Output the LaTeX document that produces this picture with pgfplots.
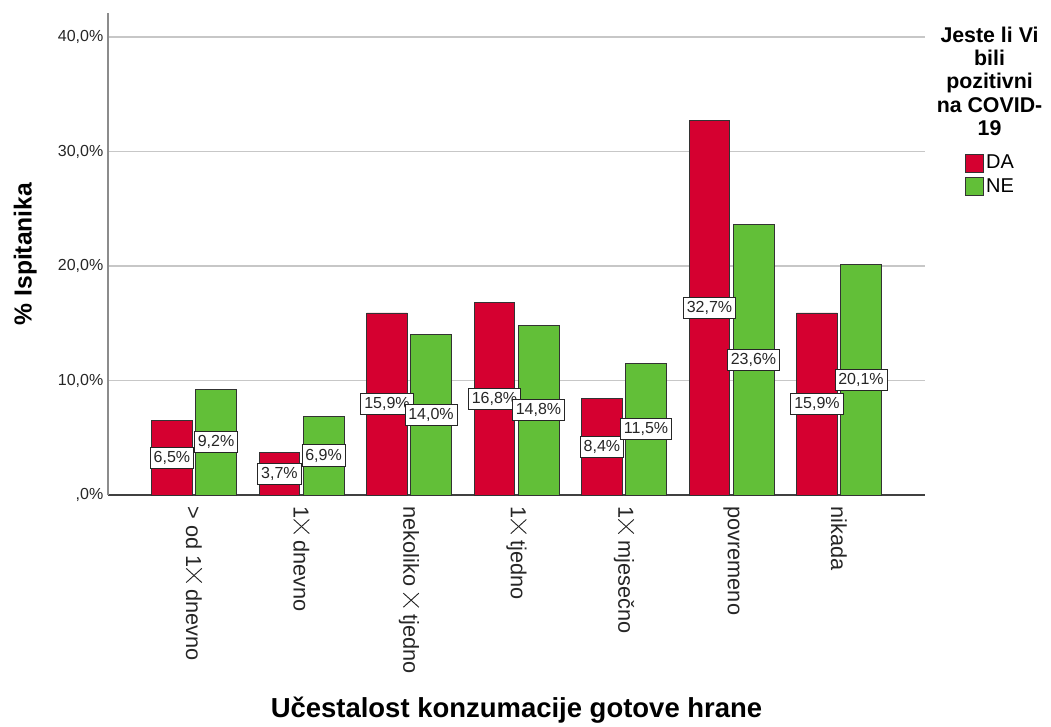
\documentclass[border=0pt]{standalone}
\usepackage{pgfplots}
\pgfplotsset{compat=1.18}
\usepackage{pgfplotstable}
\usepackage{fontspec}
\setmainfont{Liberation Sans}
\definecolor{bred}{RGB}{213,0,48}
\definecolor{bgreen}{RGB}{98,191,56}
\newcommand\tx{\makebox[0.74em]{\raisebox{0.358em}{\makebox[0pt]{\rotatebox[origin=c]{47.8}{\rule[-0.35pt]{0.967em}{0.7pt}}}\makebox[0pt]{\rotatebox[origin=c]{-47.8}{\rule[-0.35pt]{0.967em}{0.7pt}}}}}}
\pgfplotstableread{
x da ne
0 6.5 9.2
1 3.7 6.9
2 15.9 14.0
3 16.8 14.8
4 8.4 11.5
5 32.7 23.6
6 15.9 20.1
}\data
\pgfplotsset{
  mylegend/.style={legend image code/.code={\draw[##1, line width=0.6pt] (0pt,-6.75pt) rectangle (13.5pt,6.75pt);}},
  vallabel/.style={draw=none, forget plot, point meta=explicit,
    nodes near coords={\pgfmathprintnumber[fixed,fixed zerofill,precision=1,use comma]{\pgfplotspointmeta}\%},
    every node near coord/.append style={anchor=center, draw=black!85, fill=white, inner xsep=2.5pt, inner ysep=3pt, line width=0.7pt, font=\fontsize{12}{14}\selectfont, text=black!85}},
}
\begin{document}
\begin{tikzpicture}
\begin{axis}[name=ax,
  width=612.75pt, height=361.5pt, scale only axis,
  xmin=-0.8, xmax=6.8, ymin=0, ymax=42.1,
  clip=false,
  /pgf/number format/assume math mode=true,
  axis x line*=bottom, axis y line*=left,
  axis line style={-},
  x axis line style={black!75, line width=0.9pt},
  y axis line style={black!45, line width=0.9pt},
  ytick={0,10,20,30,40},
  yticklabels={{,0\%},{10,0\%},{20,0\%},{30,0\%},{40,0\%}},
  xtick={0,1,2,3,4,5,6},
  xticklabels={{> od 1\tx{} dnevno},{1\tx{} dnevno},{nekoliko \tx{} tjedno},{1\tx{} tjedno},{1\tx{} mjesečno},{povremeno},{nikada}},
  major tick length=0pt,
  ymajorgrids, grid style={black!22, line width=0.9pt},
  yticklabel style={font=\fontsize{12}{14}\selectfont, text=black!85},
  xticklabel style={font=\fontsize{16.3}{19}\selectfont, rotate=-90, anchor=west, text=black!85},
  xticklabel shift=5pt,
  xlabel={Učestalost konzumacije gotove hrane},
  ylabel={\% Ispitanika},
  every axis x label/.style={at={(axis description cs:0.5,0)}, anchor=center, yshift=-161pt, font=\bfseries\fontsize{20.6}{24}\selectfont},
  every axis y label/.style={at={(axis description cs:0,0.5)}, xshift=-62pt, rotate=90, anchor=center, font=\bfseries\fontsize{18.5}{22}\selectfont},
  legend style={at={(rel axis cs:1.049,0.71)}, anchor=north west, draw=none, fill=none, inner sep=0pt,
    font=\fontsize{15}{17}\selectfont, row sep=3pt, nodes={inner sep=1.5pt}},
  legend cell align=left,
]
\addplot[ybar, bar width=0.38, bar shift=-0.205, fill=bred, draw=black!80, line width=0.6pt, mylegend] table[x=x,y=da]{\data};
\addlegendentry{DA}
\addplot[ybar, bar width=0.38, bar shift=0.205, fill=bgreen, draw=black!80, line width=0.6pt, mylegend] table[x=x,y=ne]{\data};
\addlegendentry{NE}
\addplot[vallabel] table[x expr=\thisrow{x}-0.205, y expr=\thisrow{da}/2, meta=da]{\data};
\addplot[vallabel] table[x expr=\thisrow{x}+0.205, y expr=\thisrow{ne}/2, meta=ne]{\data};
\node[anchor=north, align=center, inner sep=0pt, font=\bfseries\fontsize{16}{17.5}\selectfont] at (rel axis cs:1.079,0.972) {Jeste li Vi\\bili\\pozitivni\\na COVID-\\19};
\end{axis}
\pgfresetboundingbox
\path[use as bounding box] ([xshift=-81pt, yshift=-173.25pt]ax.south west) rectangle ([xshift=707.25pt, yshift=371.25pt]ax.south west);
\end{tikzpicture}
\end{document}
